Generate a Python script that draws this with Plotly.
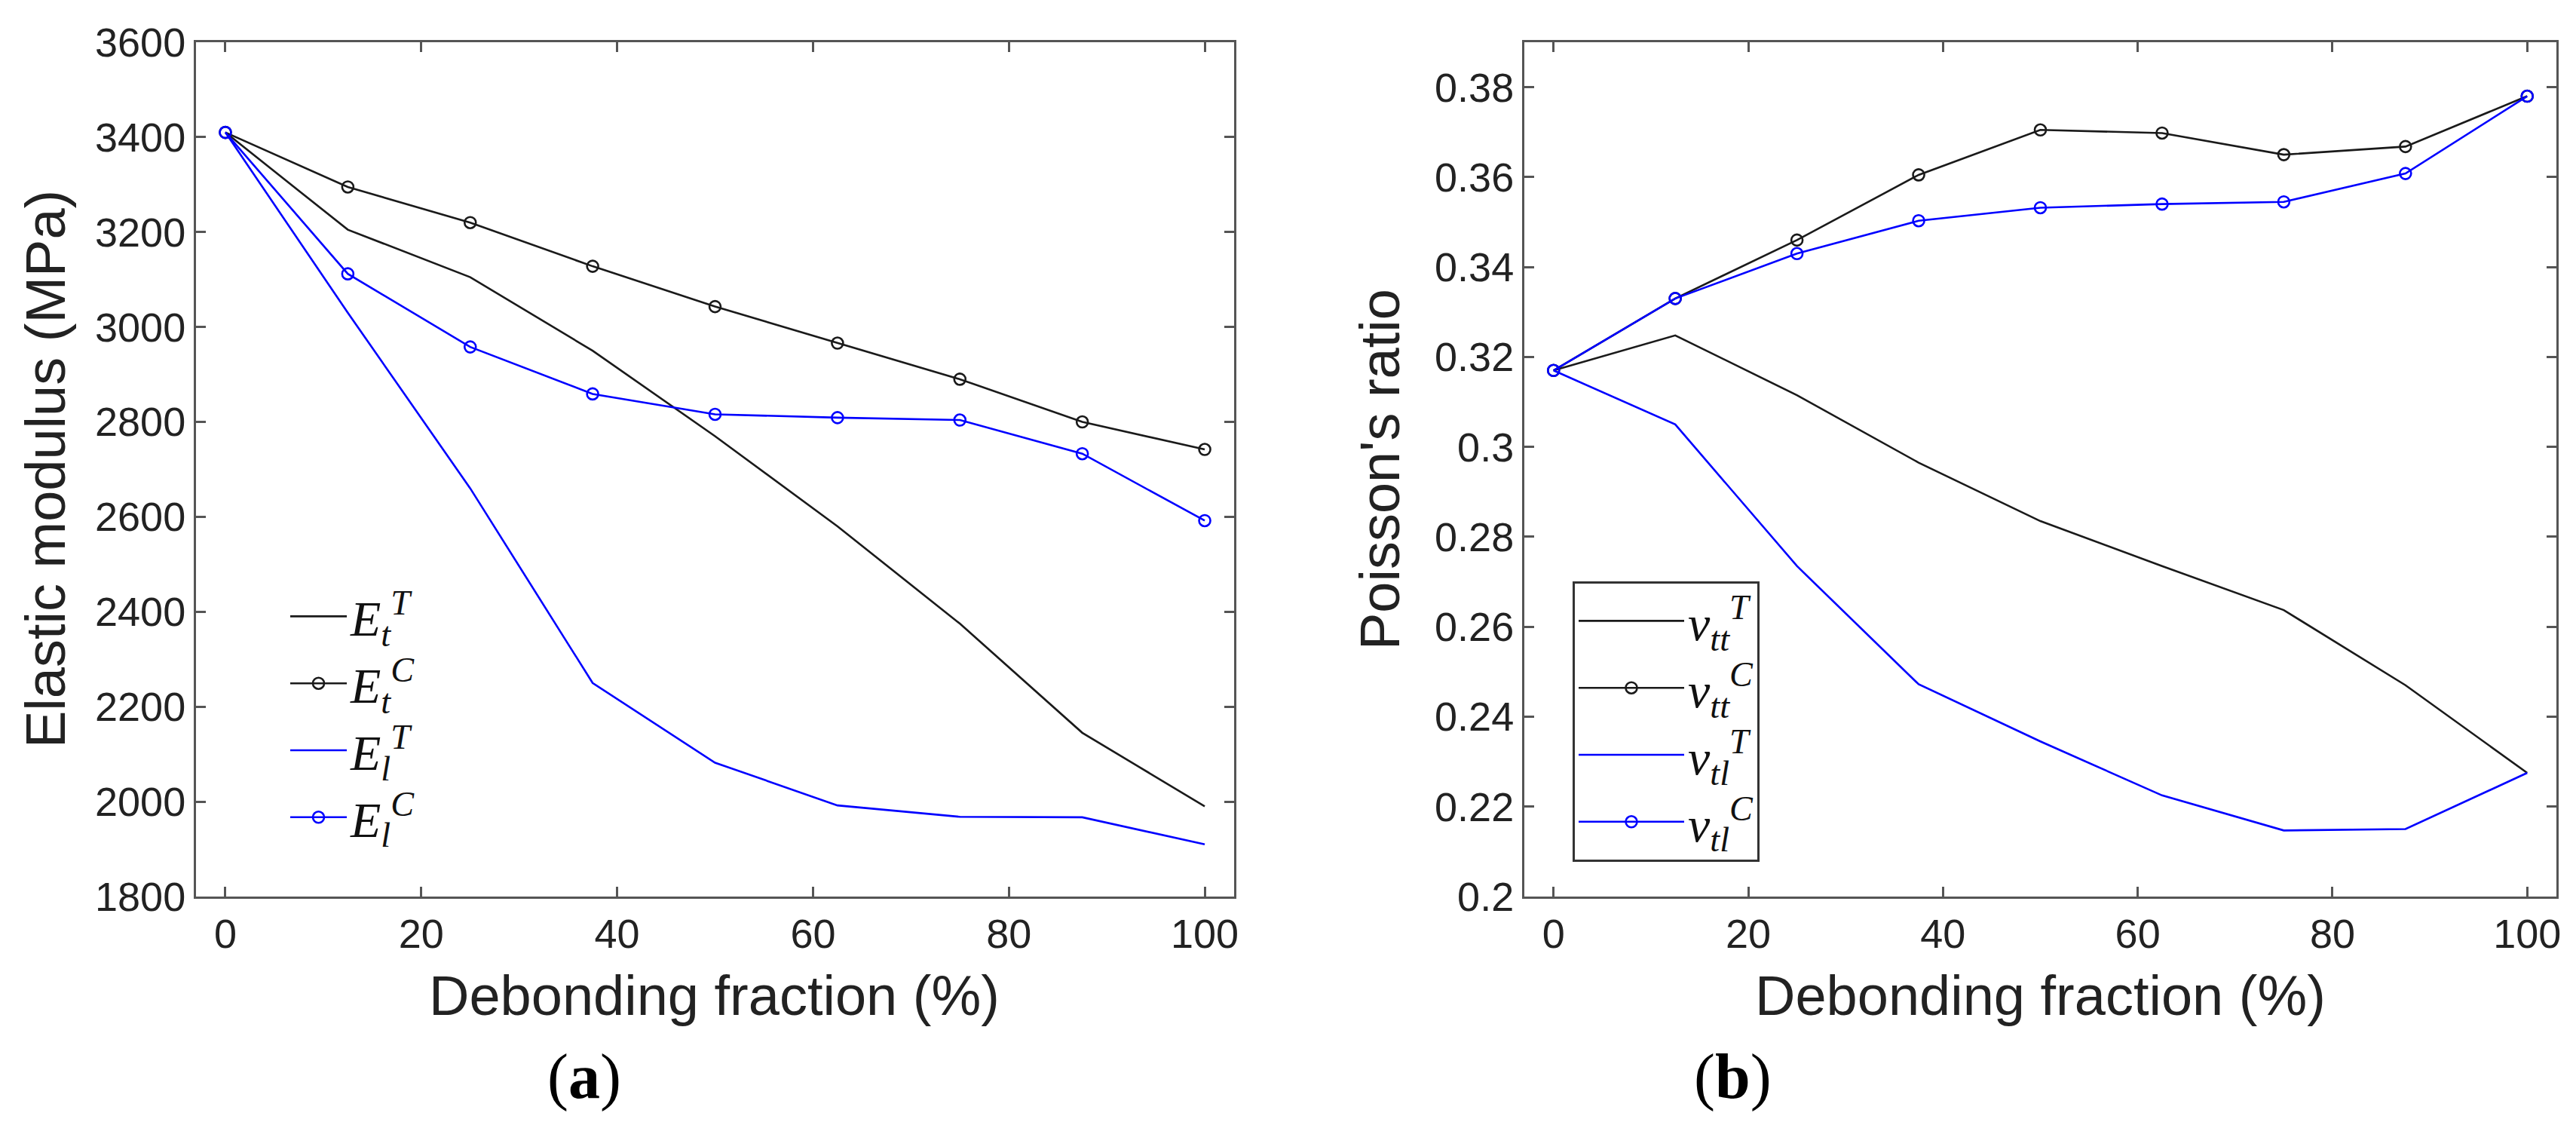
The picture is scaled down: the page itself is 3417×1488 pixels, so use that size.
import plotly.graph_objects as go

# debonding fraction (%)
debond = [0, 12.5, 25, 37.5, 50, 62.5, 75, 87.5, 100]

# (a) elastic moduli, MPa
Et_T = [3410, 3205, 3105, 2950, 2770, 2580, 2375, 2145, 1990]
Et_C = [3410, 3295, 3220, 3128, 3043, 2966, 2890, 2800, 2742]
El_T = [3410, 3030, 2660, 2250, 2082, 1992, 1968, 1967, 1910]
El_C = [3410, 3112, 2958, 2859, 2816, 2809, 2804, 2733, 2592]

# (b) Poisson's ratios
v_tt_T = [0.317, 0.3248, 0.3115, 0.2965, 0.2835, 0.2735, 0.2637, 0.247, 0.2275]
v_tt_C = [0.317, 0.333, 0.346, 0.3605, 0.3705, 0.3698, 0.3650, 0.3668, 0.378]
v_tl_T = [0.317, 0.305, 0.2735, 0.2472, 0.2345, 0.2225, 0.2147, 0.215, 0.2275]
v_tl_C = [0.317, 0.333, 0.343, 0.3503, 0.3532, 0.354, 0.3545, 0.3608, 0.378]

x_ticks = [0, 20, 40, 60, 80, 100]
e_ticks = [1800, 2000, 2200, 2400, 2600, 2800, 3000, 3200, 3400, 3600]
v_ticks = [0.2, 0.22, 0.24, 0.26, 0.28, 0.3, 0.32, 0.34, 0.36, 0.38]
v_labels = ["0.2", "0.22", "0.24", "0.26", "0.28", "0.3", "0.32", "0.34", "0.36", "0.38"]

BLACK = "#1a1a1a"
BLUE = "#0000ff"
W, H = 3417, 1488
sans = "Liberation Sans, Arial, sans-serif"
serif = "Liberation Serif, Times New Roman, serif"


def lab(sym, sub, sup):
    return "<i>%s</i><sub><i>%s</i></sub><sup><i>%s</i></sup>" % (sym, sub, sup)


fig = go.Figure()

series = [
    (debond, Et_T, lab("E", "t", "T"), BLACK, False, "x", "y", "legend"),
    (debond, Et_C, lab("E", "t", "C"), BLACK, True, "x", "y", "legend"),
    (debond, El_T, lab("E", "l", "T"), BLUE, False, "x", "y", "legend"),
    (debond, El_C, lab("E", "l", "C"), BLUE, True, "x", "y", "legend"),
    (debond, v_tt_T, lab("ν", "tt", "T"), BLACK, False, "x2", "y2", "legend2"),
    (debond, v_tt_C, lab("ν", "tt", "C"), BLACK, True, "x2", "y2", "legend2"),
    (debond, v_tl_T, lab("ν", "tl", "T"), BLUE, False, "x2", "y2", "legend2"),
    (debond, v_tl_C, lab("ν", "tl", "C"), BLUE, True, "x2", "y2", "legend2"),
]
for xs, ys, name, col, mk, xa, ya, lg in series:
    fig.add_trace(go.Scatter(
        x=xs, y=ys, name=name, xaxis=xa, yaxis=ya, legend=lg,
        mode="lines+markers" if mk else "lines",
        line=dict(color=col, width=2.6),
        marker=dict(symbol="circle-open", size=15, color=col, line=dict(width=2.6, color=col)),
    ))

axis_common = dict(
    showline=True, linecolor="#555555", linewidth=3, mirror="ticks",
    ticks="inside", ticklen=13, tickwidth=2.5, tickcolor="#555555",
    showgrid=False, zeroline=False, automargin=False,
    tickfont=dict(family=sans, size=54, color="#222222"),
)
title_font = dict(family=sans, size=74, color="#222222")
legend_font = dict(family=serif, size=66, color="#111111")

y_dom = [1 - 1181 / H, 1 - 48 / H]
fig.update_layout(
    width=W, height=H, autosize=False,
    margin=dict(l=0, r=0, t=0, b=0, pad=0),
    paper_bgcolor="white", plot_bgcolor="white",
    xaxis=dict(domain=[252 / W, 1629 / W], range=[-3, 103], tickvals=x_ticks,
               anchor="y", **axis_common),
    yaxis=dict(domain=y_dom, range=[1800, 3600], tickvals=e_ticks,
               anchor="x", **axis_common),
    xaxis2=dict(domain=[2014 / W, 3383 / W], range=[-3, 103], tickvals=x_ticks,
                anchor="y2", **axis_common),
    yaxis2=dict(domain=y_dom, range=[0.2, 0.39], tickvals=v_ticks, ticktext=v_labels,
                anchor="x2", **axis_common),
    legend=dict(x=372 / W, y=1 - 760 / H, xanchor="left", yanchor="top",
                bgcolor="rgba(0,0,0,0)", borderwidth=0,
                font=legend_font, itemwidth=75, tracegroupgap=0),
    legend2=dict(x=2078 / W, y=1 - 763 / H, xanchor="left", yanchor="top",
                 bgcolor="white", bordercolor="#333333", borderwidth=3,
                 font=legend_font, itemwidth=140, tracegroupgap=0),
    showlegend=True,
)

# axis titles and panel labels
titles = [
    ("Debonding fraction (%)", 940, 1312, 0),
    ("Debonding fraction (%)", 2698, 1312, 0),
    ("Elastic modulus (MPa)", 52, 614, -90),
    ("Poisson's ratio", 1822, 614, -90),
]
for txt, px, py, ang in titles:
    fig.add_annotation(text=txt, x=px / W, y=1 - py / H, xref="paper", yref="paper",
                       showarrow=False, textangle=ang, font=title_font,
                       xanchor="center", yanchor="middle")

for txt, px in [("(<b>a</b>)", 767), ("(<b>b</b>)", 2290)]:
    fig.add_annotation(text=txt, x=px / W, y=1 - 1420 / H, xref="paper", yref="paper",
                       showarrow=False, xanchor="center", yanchor="middle",
                       font=dict(family=serif, size=84, color="black"))

fig.write_html("out.html")
